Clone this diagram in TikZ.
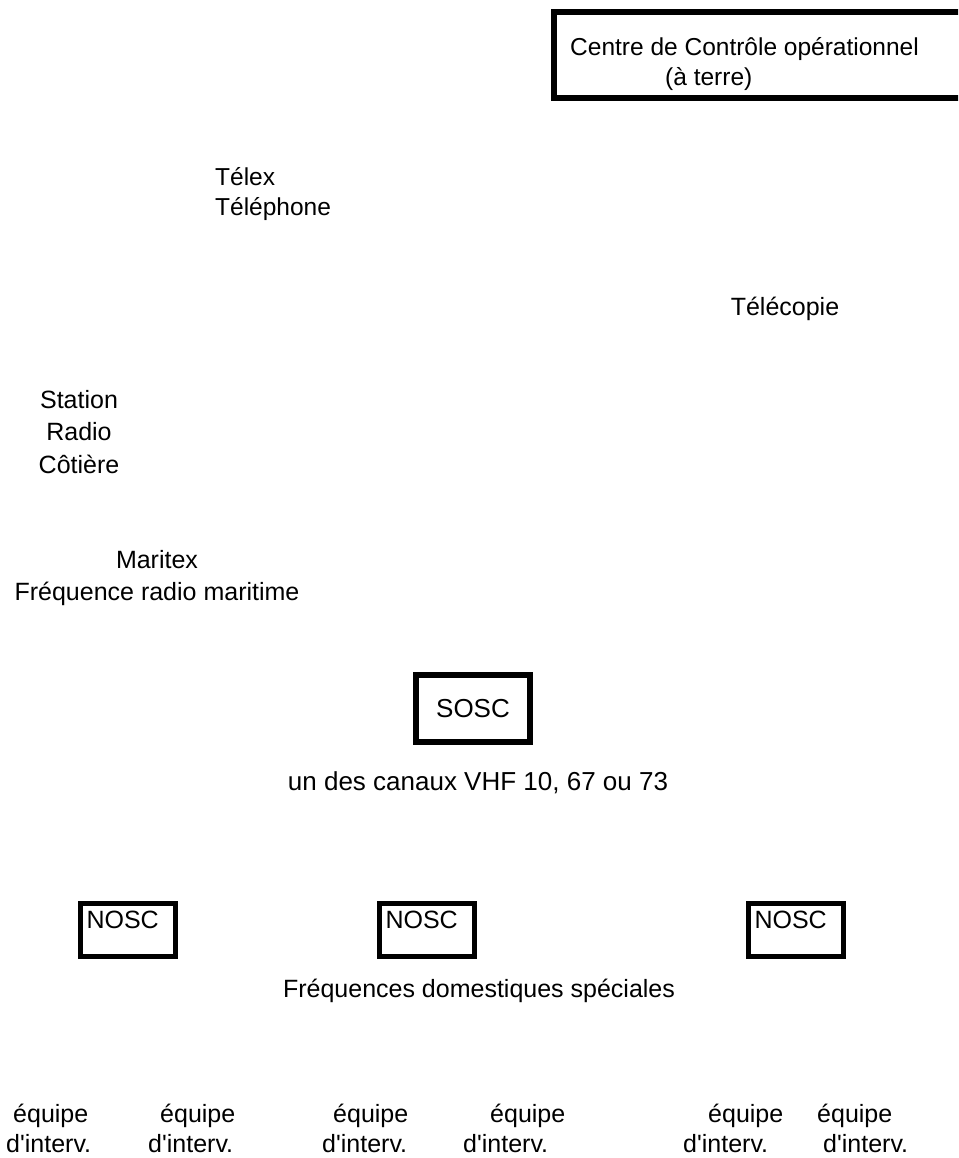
\documentclass[tikz,border=0pt]{standalone}
\usepackage{fontspec}
\setmainfont{Liberation Sans}[Ligatures=TeXOff]
\usetikzlibrary{positioning}
\newcommand{\txtsize}[2]{\fontsize{#1}{#2}\selectfont}

\begin{document}
\begin{tikzpicture}[x=1pt, y=-1pt,
    lbl/.style ={inner sep=0pt, font=\txtsize{25}{31}},
    frame/.style={draw=black, line width=6pt, outer sep=0pt, inner sep=0pt,
                  font=\txtsize{25}{31}},
    nosc/.style ={frame, line width=5pt, anchor=north west, align=left,
                  inner xsep=6pt, text width=83pt,
                  text height=24.5pt, text depth=28.5pt},
    team/.style ={lbl, align=left, anchor=north west, font=\txtsize{25}{30}}]

  \path[fill=white, use as bounding box] (0,0) rectangle (958,1158);
  \clip (0,0) rectangle (958,1158);

  % centre a terre
  \node[frame, anchor=north west, minimum width=500pt, minimum height=86pt]
        (cco) at (554,12.5) {};
  \node[lbl, align=left, anchor=north west, font=\txtsize{24.5}{30}] (ccotxt) at (570,37.5)
        {Centre de Contrôle opérationnel\\\hspace*{95pt}(à terre)};

  % liaisons
  \node[lbl, align=left, anchor=north west, font=\txtsize{24.5}{30.5}]
        (telex) at (215,167) {Télex\\Téléphone};
  \node[lbl, anchor=base] (fax) at (785,315) {Télécopie};

  \node[lbl, align=center, anchor=north, font=\txtsize{25}{32.5}]
        (crs) at (79,390) {Station\\Radio\\Côtière};
  \node[lbl, align=center, anchor=north, font=\txtsize{25}{32}]
        (maritex) at (157,550) {Maritex\\Fréquence radio maritime};

  % sosc
  \node[frame, minimum width=114pt, minimum height=67pt, font=\txtsize{26}{31}]
        (sosc) at (473,708.5) {SOSC};
  \node[lbl, anchor=base, font=\txtsize{26}{31}] (vhf) at (478,790)
        {un des canaux VHF 10, 67 ou 73};

  % nosc
  \node[nosc] (nosc1) at (80.5,903.5) {NOSC};
  \node[nosc] (nosc2) at (379.5,903.5) {NOSC};
  \node[nosc] (nosc3) at (748.5,903.5) {NOSC};
  \node[lbl, anchor=base] (dom) at (479,997)
        {Fréquences domestiques spéciales};

  % equipes
  \node[team] (eq1) at (6,1104)   {\hspace*{7pt}équipe\\d'interv.};
  \node[team] (eq2) at (148,1104) {\hspace*{12pt}équipe\\d'interv.};
  \node[team] (eq3) at (322,1104) {\hspace*{11pt}équipe\\d'interv.};
  \node[team] (eq4) at (463,1104) {\hspace*{27pt}équipe\\d'interv.};
  \node[team] (eq5) at (683,1104) {\hspace*{25pt}équipe\\d'interv.};
  \node[team] (eq6) at (817,1104) {équipe\\\hspace*{6pt}d'interv.};
\end{tikzpicture}
\end{document}
